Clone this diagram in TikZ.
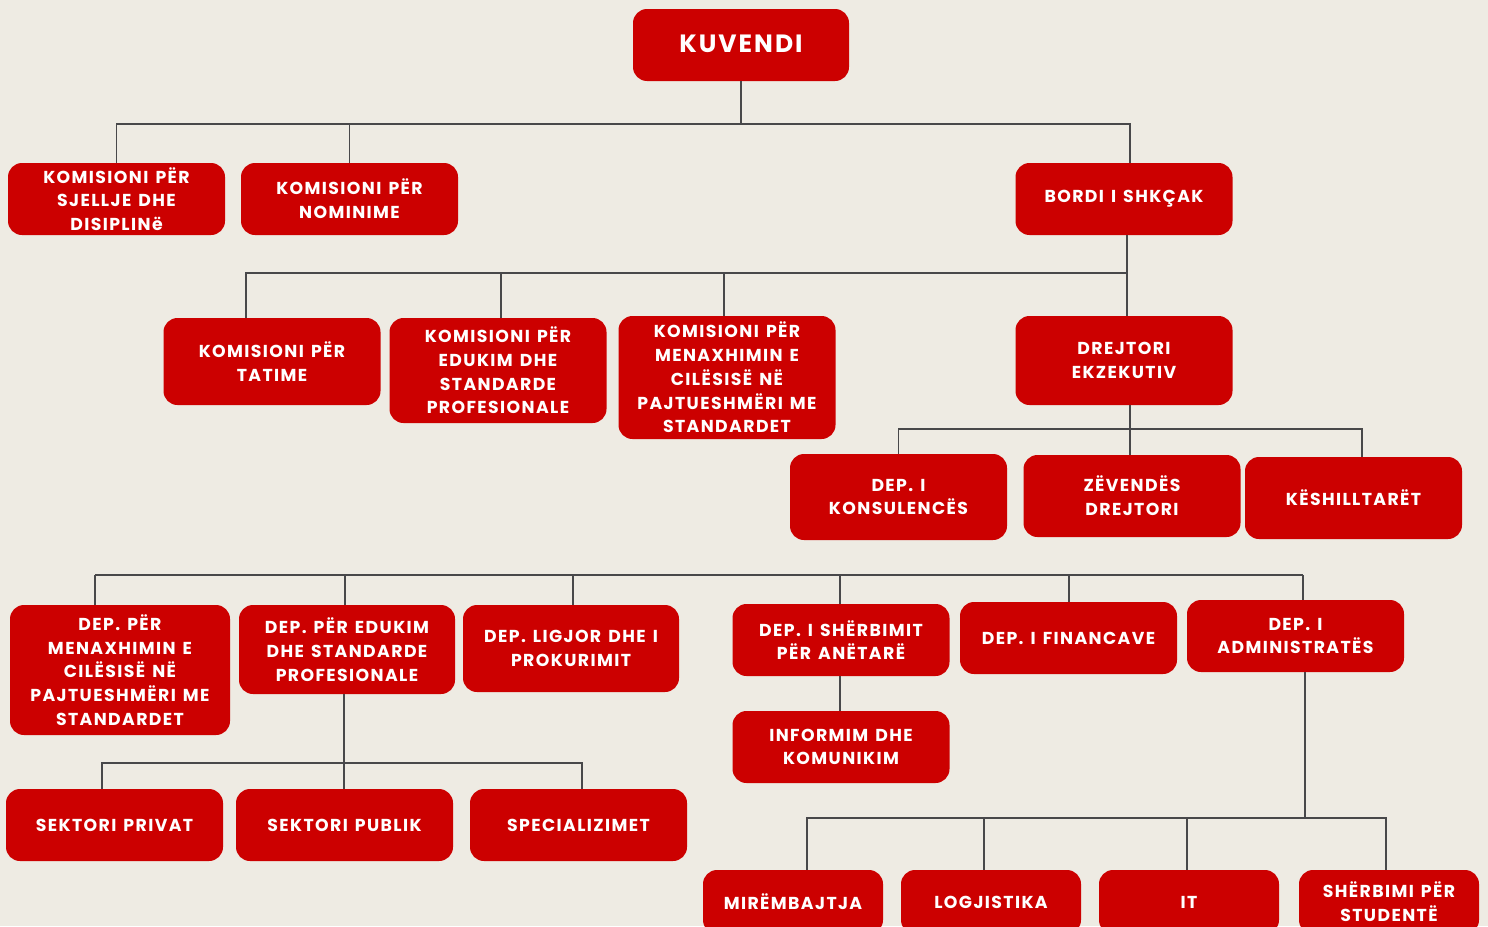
\documentclass[tikz,border=0pt]{standalone}
\usepackage{fontspec}
\setmainfont{Poppins}[LetterSpace=8,WordSpace=1.4]
\usetikzlibrary{positioning,calc}

\definecolor{boxred}{HTML}{CC0000}
\definecolor{paper}{HTML}{EEEBE3}
\definecolor{linegray}{HTML}{48484A}

\begin{document}
\begin{tikzpicture}
[x=1pt,y=-1pt,
box/.style={shape=rectangle,rounded corners=14pt,fill=boxred,text=white,align=center,inner sep=0pt,
  font=\bfseries\fontsize{17.3}{23.7}\selectfont},
wbox/.style={box,minimum width=217pt,minimum height=72pt},
bbox/.style={box,minimum width=180pt,minimum height=64pt},
myedge/.style={draw=linegray,line width=1.6pt}]
%%
\useasboundingbox (0,0) rectangle (1488,926);
\clip (0,0) rectangle (1488,926);
\fill[paper] (0,0) rectangle (1488,926);
%% top
\node (kuv) [box,minimum width=216pt,minimum height=72pt,font=\bfseries\fontsize{25}{28}\selectfont] at (741,45) {\raisebox{3pt}{KUVENDI}};
\node (k1) [wbox] at (116.5,199) {KOMISIONI PËR\\SJELLJE DHE\\DISIPLINë};
\node (k2) [wbox] at (349.5,199) {KOMISIONI PËR\\NOMINIME};
\node (bordi) [wbox] at (1124,199) {BORDI I SHKÇAK};
%% komisionet
\node (tat) [box,minimum width=217pt,minimum height=87pt] at (272,361.5) {KOMISIONI PËR\\TATIME};
\node (edu) [box,minimum width=217pt,minimum height=105pt] at (498,370.5) {KOMISIONI PËR\\EDUKIM DHE\\STANDARDE\\PROFESIONALE};
\node (cil) [box,minimum width=217pt,minimum height=123pt] at (727,377.5) {KOMISIONI PËR\\MENAXHIMIN E\\CILËSISË NË\\PAJTUESHMËRI ME\\STANDARDET};
\node (drej) [box,minimum width=217pt,minimum height=89pt] at (1124,360.5) {DREJTORI\\EKZEKUTIV};
%% drejtori
\node (kons) [box,minimum width=217pt,minimum height=86pt] at (898.5,497) {DEP. I\\KONSULENCËS};
\node (zev) [box,minimum width=217pt,minimum height=82pt] at (1132,496) {ZËVENDËS\\DREJTORI};
\node (kesh) [box,minimum width=217pt,minimum height=82pt] at (1353.5,498) {KËSHILLTARËT};
%% departamentet
\node (d1) [box,minimum width=220pt,minimum height=130pt] at (120,670) {DEP. PËR\\MENAXHIMIN E\\CILËSISË NË\\PAJTUESHMËRI ME\\STANDARDET};
\node (d2) [box,minimum width=216pt,minimum height=89pt] at (347,649.5) {DEP. PËR EDUKIM\\DHE STANDARDE\\PROFESIONALE};
\node (d3) [box,minimum width=216pt,minimum height=87pt] at (571,648.5) {DEP. LIGJOR DHE I\\PROKURIMIT};
\node (d4) [wbox] at (841,640) {DEP. I SHËRBIMIT\\PËR ANËTARË};
\node (d5) [wbox] at (1068.5,638) {DEP. I FINANCAVE};
\node (d6) [wbox] at (1295.5,636) {DEP. I\\ADMINISTRATËS};
\node (inf) [wbox] at (841,747) {INFORMIM DHE\\KOMUNIKIM};
%% sektoret
\node (priv) [wbox] at (114.5,825) {SEKTORI PRIVAT};
\node (pub) [wbox] at (344.5,825) {SEKTORI PUBLIK};
\node (spec) [wbox] at (578.5,825) {SPECIALIZIMET};
%% administrata
\node (mir) [bbox] at (793,902) {MIRËMBAJTJA};
\node (log) [bbox] at (991,902) {LOGJISTIKA};
\node (it) [bbox] at (1189,902) {IT};
\node (stud) [bbox] at (1389,902) {SHËRBIMI PËR\\STUDENTË};
%% lines
\coordinate (j1) at (741,124);
\draw[myedge] (kuv.south) -- (j1);
\draw[myedge] (k1.north) |- (j1);
\draw[myedge] (k2.north) |- (j1);
\draw[myedge] ([xshift=6pt]bordi.north) |- (j1);
%%
\coordinate (j2) at (1127,273);
\draw[myedge] (bordi.south -| j2) -- (drej.north -| j2);
\draw[myedge] ([xshift=-26pt]tat.north) |- (j2);
\draw[myedge] ([xshift=3pt]edu.north) |- (j2);
\draw[myedge] ([xshift=-3pt]cil.north) |- (j2);
%%
\coordinate (j3) at (1130,429);
\draw[myedge] (drej.south -| j3) -- (zev.north -| j3);
\draw[myedge] (kons.north) |- (j3);
\draw[myedge] ([xshift=8.5pt]kesh.north) |- (j3);
%%
\coordinate (j4l) at (95,575);
\coordinate (j4r) at (1303,575);
\draw[myedge] (j4l) -- (j4r);
\foreach \n/\s in {d1/-25,d2/-2,d3/2,d4/-1,d5/0.5,d6/7.5}
  \draw[myedge] ([xshift=\s pt]\n.north) -- ([xshift=\s pt]\n.north |- j4l);
\draw[myedge] ([xshift=-1pt]d4.south) -- ([xshift=-1pt]inf.north);
%%
\coordinate (j5) at (344,763);
\draw[myedge] (d2.south -| j5) -- (j5) -- (pub.north -| j5);
\draw[myedge] ([xshift=-12.5pt]priv.north) |- (j5);
\draw[myedge] ([xshift=3.5pt]spec.north) |- (j5);
%%
\coordinate (j6) at (1305,818);
\draw[myedge] (d6.south -| j6) -- (j6);
\draw[myedge] ([xshift=14pt]mir.north) |- (j6);
\draw[myedge] ([xshift=-7pt]log.north) |- (j6);
\draw[myedge] ([xshift=-2pt]it.north) |- (j6);
\draw[myedge] ([xshift=-3pt]stud.north) |- (j6);
\end{tikzpicture}
\end{document}
